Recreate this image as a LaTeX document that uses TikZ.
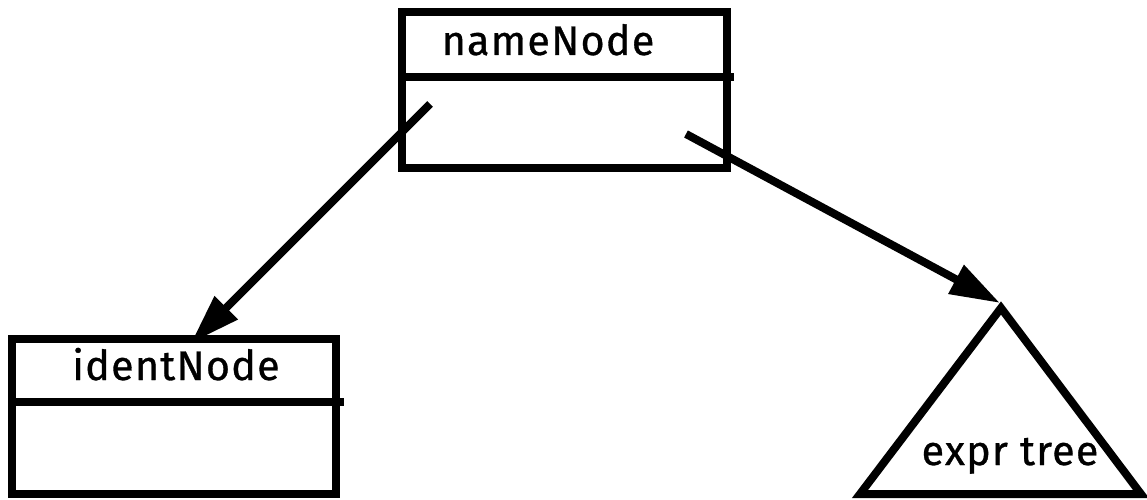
\documentclass[tikz,border=0pt]{standalone}
\usepackage{fontspec}
\setmainfont{Fira Sans}[LetterSpace=3,FakeBold=0.8]
\usetikzlibrary{arrows.meta}
\begin{document}
\begin{tikzpicture}[x=0.02cm,y=-0.02cm,line width=0.16cm,
  box/.style={draw,rectangle,inner sep=0pt},
  lbl/.style={inner sep=0pt,anchor=base,font=\fontsize{23.5pt}{27pt}\selectfont},
  arr/.style={-{Triangle[length=1cm,width=0.62cm]}},
  divider/.style={line cap=butt}]
\useasboundingbox (0,0) rectangle (1147,500);
% nameNode box
\node[box,minimum width=6.5cm,minimum height=3.12cm] (nameBox) at (564.5,90) {};
\coordinate (nd1) at (402,77);
\coordinate (nd2) at (734,77);
\draw[divider] (nd1) -- (nd2);
\node[lbl] (nameText) at (548,55) {nameNode};
% identNode box
\node[box,minimum width=6.48cm,minimum height=3.1cm] (identBox) at (174,416.5) {};
\coordinate (id1) at (12,402);
\coordinate (id2) at (344,402);
\draw[divider] (id1) -- (id2);
\node[lbl] (identText) at (176,380) {identNode};
% expr tree triangle
\coordinate (apex) at (1001,308);
\coordinate (bl) at (860,494);
\coordinate (br) at (1141,494);
\draw[line join=miter] (apex) -- (bl) -- (br) -- cycle;
\node[lbl] (exprText) at (1010,465) {expr tree};
% arrows
\coordinate (a1s) at (430,104);
\coordinate (a1e) at (191,343);
\draw[arr] (a1s) -- (a1e);
\coordinate (a2s) at (686,134);
\coordinate (a2e) at (1000,303);
\draw[arr] (a2s) -- (a2e);
\end{tikzpicture}
\end{document}
